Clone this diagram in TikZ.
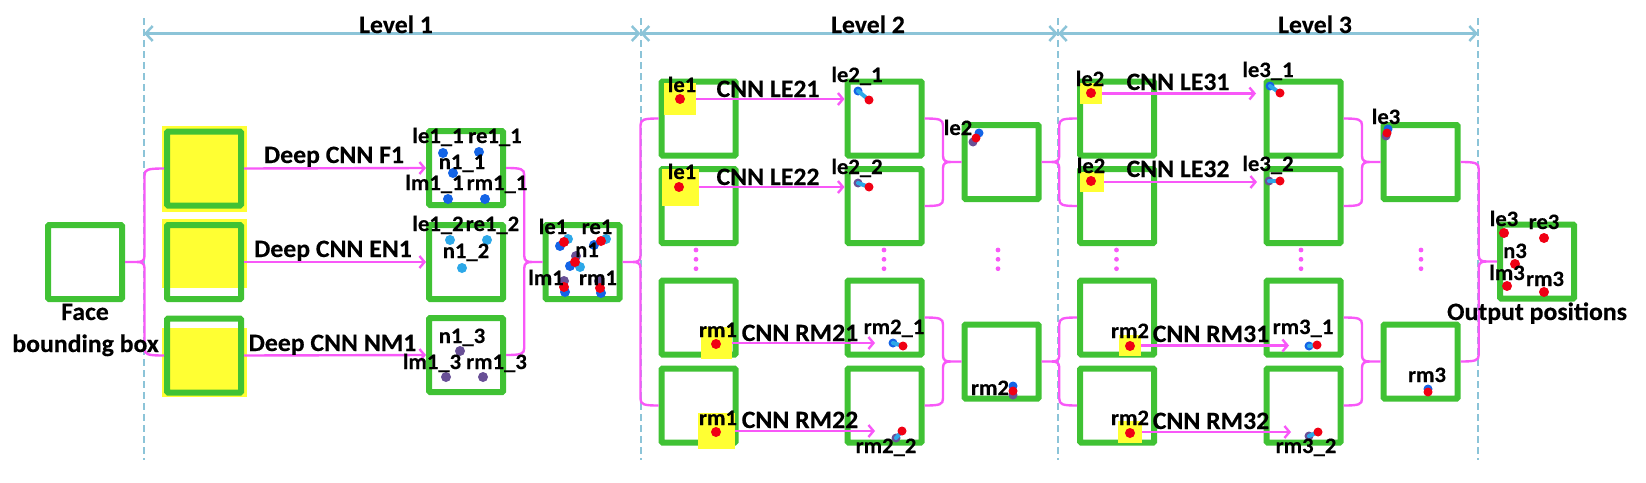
\documentclass[tikz,border=0pt]{standalone}
\usepackage{fontspec}
\setmainfont{Carlito}[FakeStretch=1.03, BoldFeatures={FakeStretch=1.03, FakeBold=0.3}]
\usetikzlibrary{arrows.meta,calc}
\definecolor{gr}{RGB}{64,194,52}
\definecolor{yl}{RGB}{255,255,51}
\definecolor{mg}{RGB}{248,88,248}
\definecolor{lb}{RGB}{140,196,216}
\definecolor{dred}{RGB}{240,0,20}
\definecolor{dblue}{RGB}{20,100,230}
\definecolor{dlblue}{RGB}{45,168,232}
\definecolor{dpurp}{RGB}{105,80,150}
\newcommand{\dt}[4]{\fill[#1] (#2,#3) circle (#4pt);}
\newcommand{\brL}[3]{%
 \draw[mag] let \p1=(#1), \p2=(#2), \p3=(#3), \p4=($(#1)!0.5!(#2)$) in
  (\p2) .. controls (\x4+3pt,\y2) and (\x4,\y2-1pt) .. (\x4,\y2-7pt)
  -- (\x4,\y1+6pt) .. controls (\x4,\y1+1pt) and (\x4-3pt,\y1) .. (\x4-8pt,\y1)
  -- (\p1)
  (\x4-8pt,\y1) .. controls (\x4-3pt,\y1) and (\x4,\y1-1pt) .. (\x4,\y1-6pt)
  -- (\x4,\y3+7pt) .. controls (\x4,\y3+1pt) and (\x4+3pt,\y3) .. (\p3);}
\newcommand{\brR}[3]{%
 \draw[mag] let \p1=(#1), \p2=(#2), \p3=(#3), \p4=($(#1)!0.5!(#2)$) in
  (\p2) .. controls (\x4-3pt,\y2) and (\x4,\y2-1pt) .. (\x4,\y2-7pt)
  -- (\x4,\y1+6pt) .. controls (\x4,\y1+1pt) and (\x4+3pt,\y1) .. (\x4+8pt,\y1)
  -- (\p1)
  (\x4+8pt,\y1) .. controls (\x4+3pt,\y1) and (\x4,\y1-1pt) .. (\x4,\y1-6pt)
  -- (\x4,\y3+7pt) .. controls (\x4,\y3+1pt) and (\x4-3pt,\y3) .. (\p3);}
\tikzset{
 gbox/.style={draw=gr, line width=6pt, minimum width=74pt, minimum height=74pt, inner sep=0pt, rounded corners=1pt},
 ypatch/.style={fill=yl, inner sep=0pt, draw=none},
 mag/.style={draw=mg, line width=2.4pt},
 arr/.style={mag, -{Straight Barb[length=5pt,width=12pt,line width=2.4pt]}},
 lvl/.style={draw=lb, line width=2.5pt, {Straight Barb[length=7pt,width=15pt]}-{Straight Barb[length=7pt,width=15pt]}},
 dashv/.style={draw=lb, line width=2pt, dash pattern=on 7pt off 4pt},
 big/.style={font=\bfseries\fontsize{25}{30}\selectfont, inner sep=0pt, anchor=base},
 sml/.style={font=\bfseries\fontsize{22}{26}\selectfont, inner sep=0pt, anchor=base},
 mv/.style={draw=dlblue, line width=4pt, line cap=round}
}
\begin{document}
\begin{tikzpicture}[x=1pt,y=-1pt]
\useasboundingbox (0,0) rectangle (1646,482);
% level bars
\draw[dashv] (144,18) -- (144,460);
\draw[dashv] (641,18) -- (641,460);
\draw[dashv] (1058,18) -- (1058,460);
\draw[dashv] (1478,18) -- (1478,460);
\coordinate (v1) at (144,33.5);
\coordinate (v2) at (640.5,33.5);
\coordinate (v3) at (1058,33.5);
\coordinate (v4) at (1478,33.5);
\draw[lvl] (v1) -- (v2);
\draw[lvl] (v2) -- (v3);
\draw[lvl] (v3) -- (v4);
% level 1 yellow backgrounds
\node[ypatch, minimum width=85pt, minimum height=86pt] (ya1) at (204.5,169) {};
\node[ypatch, minimum width=85pt, minimum height=69pt] (ya2) at (204.5,253.5) {};
\node[ypatch, minimum width=85pt, minimum height=69pt] (ya3) at (204.5,362.5) {};
% boxes
\node[gbox] (fb) at (85,262) {};
\node[gbox] (y1) at (204,168.5) {};
\node[gbox] (y2) at (204,262) {};
\node[gbox] (y3) at (204,355.5) {};
\node[gbox] (a1) at (466,168) {};
\node[gbox] (a2) at (466,262) {};
\node[gbox] (a3) at (466,355) {};
\node[gbox] (m1) at (582.5,262) {};
\node[gbox] (b1) at (698.5,118.5) {};
\node[gbox] (b2) at (698.5,206) {};
\node[gbox] (b3) at (698.5,317.5) {};
\node[gbox] (b4) at (698.5,405.5) {};
\node[gbox] (c1) at (884.5,118.5) {};
\node[gbox] (c2) at (884.5,206) {};
\node[gbox] (c3) at (884.5,317.5) {};
\node[gbox] (c4) at (884.5,405.5) {};
\node[gbox] (m2a) at (1001.5,162) {};
\node[gbox] (m2b) at (1001.5,361.5) {};
\node[gbox] (d1) at (1117,118.5) {};
\node[gbox] (d2) at (1117,206) {};
\node[gbox] (d3) at (1117,317.5) {};
\node[gbox] (d4) at (1117,405.5) {};
\node[gbox] (e1) at (1303.5,118.5) {};
\node[gbox] (e2) at (1303.5,206) {};
\node[gbox] (e3) at (1303.5,317.5) {};
\node[gbox] (e4) at (1303.5,405.5) {};
\node[gbox] (m3a) at (1420.5,162) {};
\node[gbox] (m3b) at (1420.5,361.5) {};
\node[gbox] (out) at (1537,261.5) {};
% yellow patches levels 2,3
\node[ypatch, minimum width=32pt, minimum height=32pt] (p1) at (680,99) {};
\node[ypatch, minimum width=37pt, minimum height=37pt] (p2) at (680.5,187) {};
\node[ypatch, minimum width=31pt, minimum height=32pt] (p3) at (716.5,343) {};
\node[ypatch, minimum width=37pt, minimum height=36pt] (p4) at (716.5,431) {};
\node[ypatch, minimum width=22pt, minimum height=21pt] (q1) at (1091,93.5) {};
\node[ypatch, minimum width=24pt, minimum height=20pt] (q2) at (1092,182) {};
\node[ypatch, minimum width=22pt, minimum height=21pt] (q3) at (1130,345.5) {};
\node[ypatch, minimum width=24pt, minimum height=22pt] (q4) at (1130,432) {};
% braces
\brL{fb.east}{y1.west}{y3.west}
\brR{m1.west}{a1.east}{a3.east}
\brL{m1.east}{b1.west}{b4.west}
\brR{m2a.west}{c1.east}{c2.east}
\brR{m2b.west}{c3.east}{c4.east}
\brL{m2a.east}{d1.west}{d2.west}
\brL{m2b.east}{d3.west}{d4.west}
\brR{m3a.west}{e1.east}{e2.east}
\brR{m3b.west}{e3.east}{e4.east}
\brR{out.west}{m3a.east}{m3b.east}
% arrows
\draw[arr] (y1.east) -- (a1.west);
\draw[arr] (y2.east) -- (a2.west);
\draw[arr] (y3.east) -- (a3.west);
\draw[arr] (p1.east) -- (p1.east -| c1.west);
\draw[arr] (p2.east) -- (p2.east -| c2.west);
\coordinate (t3) at (875,343);
\coordinate (t4) at (875,431);
\draw[arr] (p3.east) -- (t3);
\draw[arr] (p4.east) -- (t4);
\coordinate (tq1) at (1256,93.5);
\coordinate (tq2) at (1257,182);
\coordinate (tq3) at (1289,345.5);
\coordinate (tq4) at (1291,432);
\draw[arr] (q1.east) -- (tq1);
\draw[arr] (q2.east) -- (tq2);
\draw[arr] (q3.east) -- (tq3);
\draw[arr] (q4.east) -- (tq4);
% vertical ellipses
\foreach \xx in {696,884,998,1116.5,1301,1421}{
 \fill[mg] (\xx,250) circle (2.4pt);
 \fill[mg] (\xx,259.3) circle (2.4pt);
 \fill[mg] (\xx,268.7) circle (2.4pt);
}
% dots level 1
\dt{dblue}{443}{153}{5}\dt{dblue}{479}{152}{5}\dt{dblue}{453}{173}{5}\dt{dblue}{448}{199}{5}\dt{dblue}{485}{199}{5}
\dt{dlblue}{450}{240}{5}\dt{dlblue}{487}{240}{5}\dt{dlblue}{462}{268}{5}
\dt{dpurp}{460}{351}{5}\dt{dpurp}{446}{377}{5}\dt{dpurp}{483}{377}{5}
% merged level 1
\dt{dlblue}{568}{239}{5}\dt{dblue}{560}{246}{5}\dt{dred}{564}{242}{5}
\dt{dlblue}{606}{239}{5}\dt{dblue}{594}{245}{5}\dt{dred}{601}{241}{5}
\dt{dpurp}{576}{256}{5}\dt{dblue}{570}{266}{5}\dt{dlblue}{580}{267}{5}\dt{dred}{575}{262}{5}
\dt{dpurp}{564}{281}{5}\dt{dblue}{565}{292}{5}\dt{dred}{564}{287}{5}
\dt{dpurp}{599}{281}{5}\dt{dblue}{601}{293}{5}\dt{dred}{600}{288}{5}
% level 2
\dt{dred}{680}{99}{5}\dt{dred}{679}{187}{5}\dt{dred}{716}{344}{5}\dt{dred}{716}{432}{5}
\dt{dblue}{858}{91}{4.5}\draw[mv] (858,91) -- (869,100);\dt{dred}{869}{100}{4.5}
\dt{dpurp}{858}{183}{4.5}\draw[mv] (858,183) -- (869,187);\dt{dred}{869}{187}{4.5}
\dt{dblue}{893}{343}{4.5}\draw[mv] (893,343) -- (903,346);\dt{dred}{903}{346}{4.5}
\dt{dpurp}{896}{438}{4.5}\draw[mv] (896,438) -- (902,431);\dt{dred}{902}{431}{4.5}
\dt{dblue}{979}{133}{4.5}\dt{dpurp}{973}{142}{4.5}\dt{dred}{976}{138}{4.5}
\dt{dblue}{1013}{386}{4.5}\dt{dpurp}{1013}{395}{4.5}\dt{dred}{1013}{391}{4.5}
% level 3
\dt{dred}{1091}{93}{5}\dt{dred}{1091}{181}{5}\dt{dred}{1130}{346}{5}\dt{dred}{1130}{433}{5}
\dt{dblue}{1270}{86}{4.5}\draw[mv] (1270,86) -- (1280,93);\dt{dred}{1280}{93}{4.5}
\dt{dpurp}{1269}{181}{4.5}\draw[mv] (1269,181) -- (1280,181);\dt{dred}{1280}{181}{4.5}
\dt{dblue}{1309}{346}{4.5}\draw[mv] (1309,346) -- (1317,345);\dt{dred}{1317}{345}{4.5}
\dt{dpurp}{1309}{436}{4.5}\draw[mv] (1309,436) -- (1318,432);\dt{dred}{1318}{432}{4.5}
\dt{dblue}{1388}{129}{4.5}\dt{dpurp}{1386}{136}{4.5}\dt{dred}{1387}{133}{4.5}
\dt{dblue}{1428}{389}{4.5}\dt{dred}{1428}{392}{4.5}
% output
\dt{dred}{1504}{233}{5}\dt{dred}{1544}{238}{5}\dt{dred}{1515}{264}{5}\dt{dred}{1507}{286}{5}\dt{dred}{1544}{292}{5}
% texts big
\node[big] (l1) at (396,33) {Level 1};
\node[big] (l2) at (868,33) {Level 2};
\node[big] (l3) at (1315,33) {Level 3};
\node[big] (tf1) at (85,320) {Face};
\node[big] (tf2) at (85.5,352) {bounding box};
\node[big] (tdf) at (334,163) {Deep CNN F1};
\node[big] (tde) at (333,257) {Deep CNN EN1};
\node[big] (tdn) at (332.5,351) {Deep CNN NM1};
\node[big] (c21) at (768,97) {CNN LE21};
\node[big] (c22) at (768,185) {CNN LE22};
\node[big] (c23) at (800,341) {CNN RM21};
\node[big] (c24) at (800,428) {CNN RM22};
\node[big] (c31) at (1178,90) {CNN LE31};
\node[big] (c32) at (1178,177) {CNN LE32};
\node[big] (c33) at (1211,342) {CNN RM31};
\node[big] (c34) at (1211,429) {CNN RM32};
\node[big] (top) at (1537,320) {Output positions};
% texts small
\node[sml] (s1) at (438,143) {le1\_1};
\node[sml] (s2) at (495,143) {re1\_1};
\node[sml] (s3) at (462,169) {n1\_1};
\node[sml] (s4) at (434.5,190) {lm1\_1};
\node[sml] (s5) at (497,190) {rm1\_1};
\node[sml] (s6) at (438,231) {le1\_2};
\node[sml] (s7) at (492.5,231) {re1\_2};
\node[sml] (s8) at (466,258) {n1\_2};
\node[sml] (s9) at (462,343) {n1\_3};
\node[sml] (s10) at (432,369) {lm1\_3};
\node[sml] (s11) at (496.5,369) {rm1\_3};
\node[sml] (s12) at (553,234) {le1};
\node[sml] (s13) at (597,234) {re1};
\node[sml] (s14) at (587,257) {n1};
\node[sml] (s15) at (546,285) {lm1};
\node[sml] (s16) at (598,285) {rm1};
\node[sml] (s17) at (682,92) {le1};
\node[sml] (s18) at (682,179) {le1};
\node[sml] (s19) at (718,337) {rm1};
\node[sml] (s20) at (718,425) {rm1};
\node[sml] (s21) at (857,82) {le2\_1};
\node[sml] (s22) at (857,174) {le2\_2};
\node[sml] (s23) at (894,334) {rm2\_1};
\node[sml] (s24) at (886,453) {rm2\_2};
\node[sml] (s25) at (958,135) {le2};
\node[sml] (s26) at (990,395) {rm2};
\node[sml] (s27) at (1090,86) {le2};
\node[sml] (s28) at (1091,173) {le2};
\node[sml] (s29) at (1130,338) {rm2};
\node[sml] (s30) at (1130,425) {rm2};
\node[sml] (s31) at (1268,77) {le3\_1};
\node[sml] (s32) at (1268,171) {le3\_2};
\node[sml] (s33) at (1303,334) {rm3\_1};
\node[sml] (s34) at (1306,453) {rm3\_2};
\node[sml] (s35) at (1386,124) {le3};
\node[sml] (s36) at (1427,382) {rm3};
\node[sml] (s37) at (1504,226) {le3};
\node[sml] (s38) at (1544,229) {re3};
\node[sml] (s39) at (1515,258) {n3};
\node[sml] (s40) at (1507,280) {lm3};
\node[sml] (s41) at (1545,286) {rm3};
\end{tikzpicture}
\end{document}
